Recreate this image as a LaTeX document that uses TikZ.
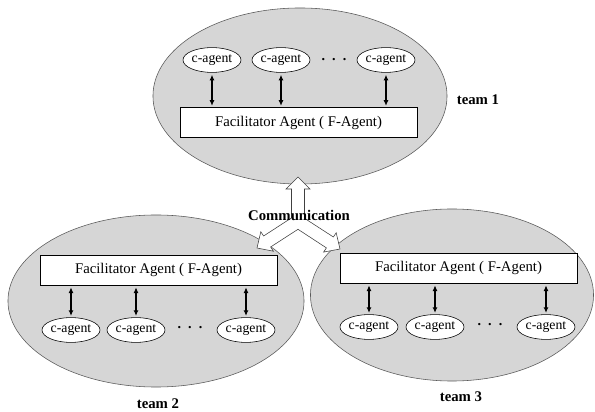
\documentclass[tikz,border=0pt]{standalone}
\usepackage{fontspec}
\setmainfont{Liberation Serif}
\usetikzlibrary{shapes.geometric, arrows.meta}

\begin{document}
\begin{tikzpicture}[
    x=0.025cm, y=-0.025cm,
    team/.style n args={2}{ellipse, draw=black!65, fill=gray!32, thin, minimum width=#1, minimum height=#2},
    cagent/.style={ellipse, draw, fill=white, thin, inner sep=0pt, minimum width=1.45cm, minimum height=0.62cm, font=\fontsize{9.8}{11}\selectfont},
    fagent/.style={rectangle, draw, fill=white, thin, minimum width=5.925cm, minimum height=0.75cm, font=\fontsize{10.5}{12}\selectfont},
    link/.style={line width=0.8pt, {Latex[length=4pt,width=3.6pt]}-{Latex[length=4pt,width=3.6pt]}, shorten <=1.5pt, shorten >=1pt},
    dots/.style={font=\fontsize{10}{12}\selectfont\bfseries},
    teamlabel/.style={font=\fontsize{10.5}{12}\selectfont\bfseries}
]

% Cadre de l'image
\useasboundingbox (0,0) rectangle (595,412);

% Les trois équipes
\node[team={7.35cm}{4.4cm}] (team1) at (300,96) {};
\node[team={7.4cm}{4.3cm}] (team2) at (156,301) {};
\node[team={7.075cm}{4.3cm}] (team3) at (452,295) {};

% Flèche creuse de communication
\draw[black!75, fill=white, line join=miter]
    (298,177) -- (310,189) -- (304.5,189) -- (304.5,218.3) -- (333.4,237.0)
    -- (336.2,232.8) -- (340,249) -- (323.6,252.1) -- (326.4,247.9)
    -- (298,229.3) -- (270.6,247.0) -- (273.4,251.2) -- (257,248)
    -- (260.8,231.8) -- (263.6,236.0) -- (291.5,217.9) -- (291.5,189)
    -- (286,189) -- cycle;
\node[teamlabel] (comm) at (299,215) {Communication};

% Équipe 1 (haut)
\node[cagent] (ca11) at (212,60) {c-agent};
\node[cagent] (ca12) at (281,60) {c-agent};
\node[cagent] (ca13) at (386,60) {c-agent};
\node[dots] (d1) at (334,60) {.\hspace{5pt}.\hspace{5pt}.};
\node[fagent] (fa1) at (298.5,122.5) {Facilitator Agent ( F-Agent)};
\draw[link] (ca11) -- (ca11 |- fa1.north);
\draw[link] (ca12) -- (ca12 |- fa1.north);
\draw[link] (ca13) -- (ca13 |- fa1.north);
\node[teamlabel] (t1) at (478,100) {team 1};

% Équipe 2 (gauche)
\node[fagent] (fa2) at (158.5,270) {Facilitator Agent ( F-Agent)};
\node[cagent] (ca21) at (71,330) {c-agent};
\node[cagent] (ca22) at (136,330) {c-agent};
\node[cagent] (ca23) at (246,330) {c-agent};
\node[dots] (d2) at (190,328) {.\hspace{5pt}.\hspace{5pt}.};
\draw[link] (fa2.south -| ca21) -- (ca21);
\draw[link] (fa2.south -| ca22) -- (ca22);
\draw[link] (fa2.south -| ca23) -- (ca23);
\node[teamlabel] (t2) at (158,404) {team 2};

% Équipe 3 (droite)
\node[fagent] (fa3) at (458.5,268) {Facilitator Agent ( F-Agent)};
\node[cagent] (ca31) at (369,327) {c-agent};
\node[cagent] (ca32) at (435,327) {c-agent};
\node[cagent] (ca33) at (546,327) {c-agent};
\node[dots] (d3) at (490,325) {.\hspace{5pt}.\hspace{5pt}.};
\draw[link] (fa3.south -| ca31) -- (ca31);
\draw[link] (fa3.south -| ca32) -- (ca32);
\draw[link] (fa3.south -| ca33) -- (ca33);
\node[teamlabel] (t3) at (461,397) {team 3};

\end{tikzpicture}
\end{document}
